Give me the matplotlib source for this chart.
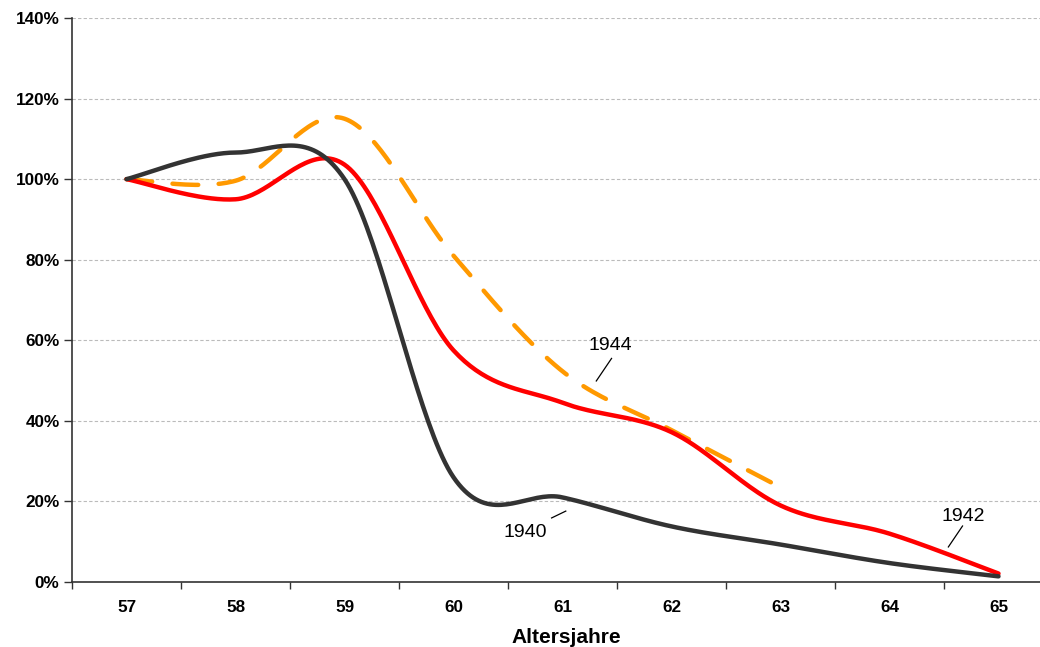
"""
Share still employed by age (Altersjahre), cohorts 1940, 1942, 1944.
"""
import numpy as np
import matplotlib.pyplot as plt
from matplotlib.ticker import PercentFormatter

plt.rcParams['font.family'] = ['Liberation Sans', 'DejaVu Sans']

# Data
ages = ['57', '58', '59', '60', '61', '62', '63', '64', '65']
share_1940 = [100, 106.6, 100, 26, 21, 13.8, 9.3, 4.7, 1.4]
share_1942 = [100, 95, 103.6, 57.5, 44.5, 37.2, 19, 12, 2.1]
share_1944 = [100, 99.6, 115, 81, 52.3, 37.7, 23.5]


def smooth(y, n=40):
    """Excel-like smoothed line (Catmull-Rom through the points)."""
    y = np.asarray(y, dtype=float)
    x = np.arange(len(y), dtype=float)
    xs, ys = [], []
    for i in range(len(y) - 1):
        p0 = y[i - 1] if i > 0 else y[i]
        p3 = y[i + 2] if i + 2 < len(y) else y[i + 1]
        x0 = x[i - 1] if i > 0 else x[i]
        x3 = x[i + 2] if i + 2 < len(y) else x[i + 1]
        m1y, m2y = (y[i + 1] - p0) / 6, (p3 - y[i]) / 6
        m1x, m2x = (x[i + 1] - x0) / 6, (x3 - x[i]) / 6
        t = np.linspace(0, 1, n)
        b0, b1, b2, b3 = (1 - t) ** 3, 3 * t * (1 - t) ** 2, 3 * t ** 2 * (1 - t), t ** 3
        xs.append(b0 * x[i] + b1 * (x[i] + m1x) + b2 * (x[i + 1] - m2x) + b3 * x[i + 1])
        ys.append(b0 * y[i] + b1 * (y[i] + m1y) + b2 * (y[i + 1] - m2y) + b3 * y[i + 1])
    return np.concatenate(xs), np.concatenate(ys)


W, H = 1040, 647
fig = plt.figure(figsize=(W / 100, H / 100), dpi=100)
ax = fig.add_axes([72 / W, (H - 582) / H, (1053 - 72) / W, (582 - 18) / H])

x, y = smooth(share_1944)
ax.plot(x, y, color='#FF9900', lw=3.2, dashes=(5.8, 4.6), dash_capstyle='round',
        solid_capstyle='round', zorder=3)
x, y = smooth(share_1942)
ax.plot(x, y, color='#FF0000', lw=3.2, solid_capstyle='round', zorder=4)
x, y = smooth(share_1940)
ax.plot(x, y, color='#333333', lw=3.2, solid_capstyle='round', zorder=5)

ax.set_xlim(-0.5, len(ages) - 0.5)
ax.set_ylim(0, 140)
ax.set_yticks(np.arange(0, 141, 20))
ax.yaxis.set_major_formatter(PercentFormatter(decimals=0))
ax.set_xticks(np.arange(len(ages)))
ax.set_xticklabels(ages)
ax.set_xticks(np.arange(len(ages) + 1) - 0.5, minor=True)
ax.tick_params(axis='x', which='major', length=0, pad=13)
ax.tick_params(axis='x', which='minor', length=5, width=1, color='#333333')
ax.tick_params(axis='y', length=6, width=1, color='#333333', pad=3)
for lab in ax.get_xticklabels() + ax.get_yticklabels():
    lab.set_fontweight('bold')
    lab.set_fontsize(12.3)

ax.grid(axis='y', color='#BBBBBB', linestyle=(0, (3, 2)), lw=0.8)
ax.set_axisbelow(True)
for s in ['top', 'right']:
    ax.spines[s].set_visible(False)
for s in ['left', 'bottom']:
    ax.spines[s].set_color('#333333')
    ax.spines[s].set_linewidth(1.2)

ax.set_xlabel('Altersjahre', fontsize=15, fontweight='bold')
ax.xaxis.set_label_coords((566 - 72) / (1053 - 72), -0.082)

# labels with leader lines
ax.text(4.44, 58.7, '1944', fontsize=14, ha='center', va='center')
ax.plot([4.31, 4.45], [49.9, 55.5], color='black', lw=0.9)
ax.text(3.66, 12.4, '1940', fontsize=14, ha='center', va='center')
ax.plot([3.90, 4.03], [15.9, 17.6], color='black', lw=0.9)
ax.text(7.68, 16.2, '1942', fontsize=14, ha='center', va='center')
ax.plot([7.54, 7.67], [8.7, 13.9], color='black', lw=0.9)

fig.savefig('out.png', dpi=100)
